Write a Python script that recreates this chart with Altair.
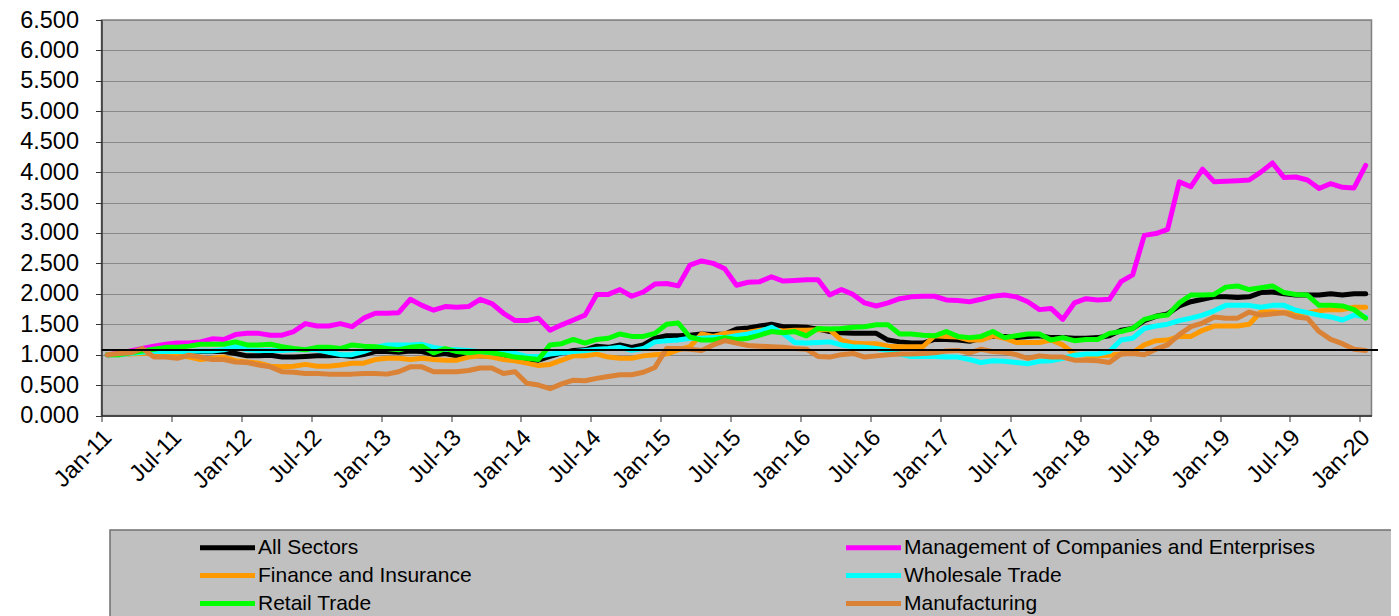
import altair as alt
import pandas as pd
import json

SERIES = ["All Sectors", "Management of Companies and Enterprises", "Finance and Insurance",
          "Wholesale Trade", "Retail Trade", "Manufacturing"]
COLORS = ["#000000", "#FF00FF", "#FF9900", "#00FFFF", "#00FF00", "#DA8236"]
# legend is filled column by column: left column first, then right column
LEGEND_ORDER = ["All Sectors", "Finance and Insurance", "Retail Trade",
                "Management of Companies and Enterprises", "Wholesale Trade", "Manufacturing"]

TICK_LABELS = ["Jan-11", "Jul-11", "Jan-12", "Jul-12", "Jan-13", "Jul-13", "Jan-14", "Jul-14",
               "Jan-15", "Jul-15", "Jan-16", "Jul-16", "Jan-17", "Jul-17", "Jan-18", "Jul-18",
               "Jan-19", "Jul-19", "Jan-20"]
MONTH_NAMES = ["Jan", "Feb", "Mar", "Apr", "May", "Jun", "Jul", "Aug", "Sep", "Oct", "Nov", "Dec"]
YEARS = list(range(11, 21))

all_sectors = [1.00, 1.01, 1.03, 1.04, 1.05, 1.05, 1.05, 1.05, 1.05, 1.05, 1.05, 1.02,
               0.98, 0.98, 0.99, 0.96, 0.96, 0.97, 0.98, 0.98, 0.99, 0.97, 1.00, 1.05,
               1.05, 1.04, 1.06, 1.05, 1.00, 1.02, 0.98, 0.99, 0.98, 0.98, 0.98, 0.97,
               0.92, 0.91, 0.97, 1.03, 1.07, 1.08, 1.14, 1.12, 1.16, 1.12, 1.16, 1.27,
               1.31, 1.31, 1.32, 1.34, 1.33, 1.34, 1.42, 1.44, 1.47, 1.50, 1.46, 1.46,
               1.45, 1.42, 1.38, 1.36, 1.35, 1.35, 1.35, 1.24, 1.21, 1.19, 1.19, 1.25,
               1.25, 1.24, 1.22, 1.27, 1.30, 1.30, 1.28, 1.30, 1.31, 1.28, 1.28, 1.27,
               1.27, 1.28, 1.31, 1.40, 1.43, 1.56, 1.63, 1.67, 1.80, 1.87, 1.91, 1.95,
               1.95, 1.94, 1.95, 2.02, 2.03, 2.00, 1.98, 1.98, 1.98, 2.00, 1.98, 2.00,
               2.00]
management = [1.00, 1.02, 1.06, 1.10, 1.14, 1.17, 1.19, 1.19, 1.21, 1.26, 1.25, 1.33,
              1.35, 1.35, 1.32, 1.32, 1.38, 1.51, 1.47, 1.47, 1.51, 1.46, 1.60, 1.68,
              1.68, 1.69, 1.91, 1.81, 1.73, 1.79, 1.78, 1.79, 1.91, 1.84, 1.68, 1.56,
              1.56, 1.60, 1.40, 1.49, 1.57, 1.65, 1.99, 1.99, 2.07, 1.96, 2.03, 2.16,
              2.17, 2.13, 2.47, 2.54, 2.50, 2.41, 2.14, 2.19, 2.20, 2.28, 2.21, 2.22,
              2.23, 2.23, 1.98, 2.07, 1.99, 1.85, 1.80, 1.85, 1.92, 1.95, 1.96, 1.96,
              1.90, 1.89, 1.87, 1.91, 1.96, 1.98, 1.95, 1.87, 1.74, 1.76, 1.58, 1.85,
              1.92, 1.90, 1.91, 2.20, 2.31, 2.96, 2.99, 3.06, 3.84, 3.76, 4.05, 3.84,
              3.85, 3.86, 3.87, 4.00, 4.15, 3.91, 3.92, 3.87, 3.73, 3.81, 3.75, 3.74,
              4.11]
finance = [1.00, 1.00, 1.01, 1.02, 1.03, 1.02, 1.00, 0.96, 0.92, 0.94, 0.96, 0.90,
           0.88, 0.86, 0.81, 0.80, 0.81, 0.84, 0.81, 0.81, 0.83, 0.86, 0.86, 0.92,
           0.94, 0.94, 0.92, 0.94, 0.92, 0.91, 0.91, 0.96, 0.98, 0.96, 0.92, 0.90,
           0.86, 0.82, 0.84, 0.91, 0.98, 0.98, 1.01, 0.96, 0.94, 0.94, 0.98, 1.00,
           1.01, 1.08, 1.13, 1.34, 1.30, 1.35, 1.36, 1.37, 1.40, 1.42, 1.39, 1.40,
           1.40, 1.41, 1.41, 1.24, 1.19, 1.18, 1.18, 1.14, 1.13, 1.13, 1.13, 1.31,
           1.30, 1.29, 1.24, 1.24, 1.31, 1.27, 1.20, 1.20, 1.20, 1.24, 1.16, 1.01,
           0.99, 0.98, 0.99, 1.01, 1.03, 1.16, 1.23, 1.24, 1.30, 1.30, 1.40, 1.47,
           1.47, 1.47, 1.50, 1.70, 1.70, 1.69, 1.68, 1.69, 1.72, 1.74, 1.74, 1.78,
           1.78]
wholesale = [1.00, 1.00, 1.02, 1.04, 1.05, 1.05, 1.05, 1.05, 1.06, 1.06, 1.08, 1.13,
             1.08, 1.07, 1.07, 1.07, 1.08, 1.08, 1.08, 1.04, 1.00, 1.00, 1.05, 1.12,
             1.16, 1.16, 1.16, 1.17, 1.12, 1.09, 1.08, 1.07, 1.05, 1.03, 1.03, 1.02,
             0.97, 0.97, 1.01, 1.03, 1.05, 1.07, 1.09, 1.10, 1.12, 1.07, 1.10, 1.21,
             1.23, 1.24, 1.27, 1.27, 1.28, 1.28, 1.31, 1.34, 1.38, 1.45, 1.35, 1.20,
             1.19, 1.20, 1.21, 1.16, 1.13, 1.12, 1.10, 1.07, 1.01, 0.97, 0.97, 0.97,
             0.96, 0.96, 0.92, 0.87, 0.90, 0.89, 0.87, 0.85, 0.89, 0.90, 0.94, 0.99,
             1.01, 1.01, 1.05, 1.24, 1.27, 1.43, 1.47, 1.50, 1.56, 1.60, 1.65, 1.72,
             1.81, 1.81, 1.81, 1.78, 1.81, 1.81, 1.73, 1.69, 1.65, 1.62, 1.57, 1.65,
             1.62]
retail = [1.00, 1.00, 1.03, 1.06, 1.09, 1.12, 1.12, 1.14, 1.17, 1.17, 1.17, 1.21,
          1.16, 1.16, 1.17, 1.13, 1.10, 1.08, 1.12, 1.12, 1.10, 1.16, 1.14, 1.13,
          1.10, 1.08, 1.12, 1.14, 1.03, 1.10, 1.05, 1.03, 1.05, 1.03, 1.00, 0.96,
          0.94, 0.92, 1.16, 1.18, 1.25, 1.19, 1.25, 1.27, 1.34, 1.30, 1.30, 1.35,
          1.50, 1.52, 1.29, 1.24, 1.24, 1.28, 1.25, 1.27, 1.32, 1.38, 1.36, 1.38,
          1.31, 1.43, 1.42, 1.43, 1.45, 1.46, 1.49, 1.49, 1.34, 1.34, 1.32, 1.31,
          1.38, 1.30, 1.28, 1.30, 1.38, 1.28, 1.31, 1.34, 1.34, 1.24, 1.28, 1.23,
          1.25, 1.25, 1.35, 1.38, 1.43, 1.58, 1.63, 1.65, 1.85, 1.98, 1.98, 1.99,
          2.11, 2.13, 2.07, 2.10, 2.13, 2.02, 1.99, 1.98, 1.81, 1.81, 1.80, 1.74,
          1.60]
manufacturing = [1.00, 1.02, 1.03, 1.10, 0.96, 0.96, 0.94, 0.99, 0.96, 0.92, 0.92, 0.88,
                 0.87, 0.83, 0.80, 0.72, 0.71, 0.69, 0.69, 0.68, 0.68, 0.68, 0.69, 0.69,
                 0.68, 0.72, 0.80, 0.80, 0.72, 0.72, 0.72, 0.74, 0.78, 0.78, 0.69, 0.72,
                 0.53, 0.50, 0.44, 0.52, 0.58, 0.57, 0.61, 0.64, 0.67, 0.67, 0.71, 0.79,
                 1.10, 1.10, 1.09, 1.07, 1.16, 1.23, 1.19, 1.15, 1.14, 1.13, 1.12, 1.10,
                 1.09, 0.97, 0.96, 1.00, 1.02, 0.96, 0.98, 1.00, 1.01, 1.01, 1.02, 1.03,
                 1.06, 1.07, 1.03, 1.09, 1.05, 1.04, 1.00, 0.94, 0.98, 0.96, 0.96, 0.91,
                 0.91, 0.90, 0.87, 1.01, 1.02, 1.00, 1.09, 1.16, 1.33, 1.46, 1.52, 1.62,
                 1.60, 1.60, 1.70, 1.65, 1.67, 1.69, 1.62, 1.60, 1.38, 1.25, 1.18, 1.09,
                 1.07]

REF_LEVEL = 1.075

months = [f"{m}-{y}" for y in YEARS for m in MONTH_NAMES][:len(all_sectors)]
series_values = [all_sectors, management, finance, wholesale, retail, manufacturing]

rows = []
for name, vals in zip(SERIES, series_values):
    for i, v in enumerate(vals):
        rows.append({"month": months[i], "idx": i + 0.5, "series": name, "value": v})
df = pd.DataFrame(rows)

color_of = dict(zip(SERIES, COLORS))
FONT = "Liberation Sans"
n = len(all_sectors)

x_enc = alt.X("idx:Q",
              scale=alt.Scale(domain=[0, n], nice=False, zero=False),
              axis=alt.Axis(values=list(range(0, n, 6)),
                            labelExpr=json.dumps(TICK_LABELS) + "[round(datum.value/6)]",
                            labelAngle=-45, labelAlign="right", labelBaseline="middle",
                            labelFontSize=23.5, labelFont=FONT, labelColor="black",
                            labelPadding=12, labelOffset=6, tickSize=6,
                            labelOverlap=False, labelFlush=False,
                            grid=False, title=None, domainColor="#333333", tickColor="#333333",
                            domainWidth=1.5))
y_axis = alt.Axis(values=[i * 0.5 for i in range(14)], format=".3f",
                  labelFontSize=23.5, labelFont=FONT, labelColor="black",
                  labelPadding=17, tickSize=6, labelOverlap=False, labelFlush=False,
                  grid=True, gridColor="#888888", gridWidth=1,
                  title=None, domainColor="#333333", tickColor="#333333",
                  domainWidth=1.5)
y_scale = alt.Scale(domain=[0, 6.5], nice=False, zero=True)

legend_bg = alt.Chart(alt.Data(values=[{}])).mark_rect(
    fill="#C0C0C0", stroke="#707070", strokeWidth=1.5
).encode(x=alt.value(8.5), x2=alt.value(1400), y=alt.value(510), y2=alt.value(700))

lines = alt.Chart(df).mark_line(strokeWidth=5, strokeJoin="round", strokeCap="round").encode(
    x=x_enc,
    y=alt.Y("value:Q", scale=y_scale, axis=y_axis),
    color=alt.Color("series:N",
                    scale=alt.Scale(domain=LEGEND_ORDER,
                                    range=[color_of[s] for s in LEGEND_ORDER]),
                    legend=alt.Legend(orient="none", legendX=115.5, legendY=517,
                                      columns=2, columnPadding=364, rowPadding=6,
                                      symbolType="M-5,0H5", symbolSize=121,
                                      symbolStrokeWidth=5, labelOffset=20,
                                      labelFontSize=21, labelFont=FONT, labelColor="black",
                                      labelLimit=800, title=None, padding=0, zindex=1)),
    order=alt.Order("idx:Q"),
)

ref = alt.Chart(alt.Data(values=[{"value": REF_LEVEL}])).mark_rule(
    color="#000000", strokeWidth=2
).encode(
    y=alt.Y("value:Q", scale=y_scale, axis=y_axis), x=alt.value(0), x2=alt.value(1276.5)
)

chart = alt.layer(legend_bg, lines, ref).properties(
    width=1270, height=395.5,
    autosize=alt.AutoSizeParams(type="none"),
    padding={"left": 93.5, "top": 12, "right": 19.5, "bottom": 200.5},
    background="white",
).configure_view(fill="#C0C0C0", stroke="#808080", strokeWidth=1.5)

chart.save("out.html", embed_options={"renderer": "svg", "actions": False})
